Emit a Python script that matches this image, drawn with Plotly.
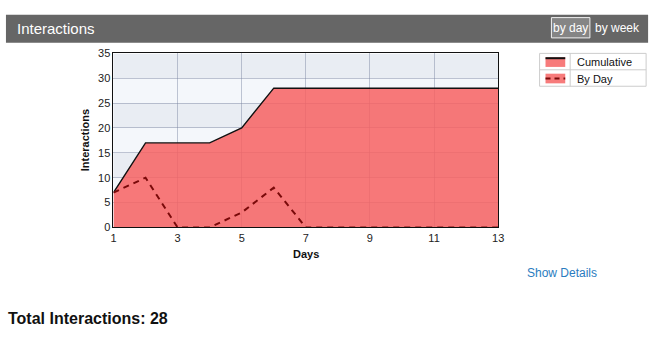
import plotly.graph_objects as go

days = list(range(1, 14))
cumulative = [7, 17, 17, 17, 20, 28, 28, 28, 28, 28, 28, 28, 28]
by_day = [7, 10, 0, 0, 3, 8, 0, 0, 0, 0, 0, 0, 0]
x_ticks = [1, 3, 5, 7, 9, 11, 13]
y_ticks = [0, 5, 10, 15, 20, 25, 30, 35]

W, H = 661, 362
FONT = "Liberation Sans, Arial, sans-serif"


def px(x):
    return x / W


def py(y):
    return 1 - y / H


FILL = "rgba(247,98,98,0.85)"

fig = go.Figure()
fig.add_trace(go.Scatter(x=days, y=cumulative, mode="lines", fill="tozeroy",
                         fillcolor=FILL, line=dict(color="#111111", width=1.4),
                         name="Cumulative", showlegend=False))
fig.add_trace(go.Scatter(x=days, y=by_day, mode="lines",
                         line=dict(color="#7a0a0a", width=2, dash="6px,5px"),
                         name="By Day", showlegend=False))

shapes = []
# background bands
for i, lo in enumerate(range(0, 35, 5)):
    dark = (i % 2 == 0)
    shapes.append(dict(type="rect", xref="x domain", yref="y", x0=0, x1=1, y0=lo, y1=lo + 5,
                       fillcolor="#e9edf3" if dark else "#f4f7fb", line=dict(width=0), layer="below"))
# header bar
shapes.append(dict(type="rect", xref="paper", yref="paper", x0=px(3), x1=px(654), y0=py(38), y1=py(9),
                   fillcolor="#666666", line=dict(width=0), layer="below"))
shapes.append(dict(type="rect", xref="paper", yref="paper", x0=px(556), x1=px(595), y0=py(33), y1=py(12),
                   fillcolor="#858585", line=dict(color="#f0f0f0", width=1), layer="below"))
# legend box
shapes.append(dict(type="rect", xref="paper", yref="paper", x0=px(544), x1=px(652), y0=py(83), y1=py(49),
                   fillcolor="white", line=dict(color="#cccccc", width=1), layer="below"))
shapes.append(dict(type="line", xref="paper", yref="paper", x0=px(544), x1=px(652), y0=py(66), y1=py(66),
                   line=dict(color="#cccccc", width=1)))
shapes.append(dict(type="line", xref="paper", yref="paper", x0=px(575), x1=px(575), y0=py(83), y1=py(49),
                   line=dict(color="#cccccc", width=1)))
shapes.append(dict(type="rect", xref="paper", yref="paper", x0=px(550), x1=px(570), y0=py(63), y1=py(53),
                   fillcolor="#f77b7b", line=dict(width=0)))
shapes.append(dict(type="line", xref="paper", yref="paper", x0=px(550), x1=px(570), y0=py(54), y1=py(54),
                   line=dict(color="#111111", width=2)))
shapes.append(dict(type="rect", xref="paper", yref="paper", x0=px(550), x1=px(570), y0=py(80), y1=py(70),
                   fillcolor="#f77b7b", line=dict(width=0)))
shapes.append(dict(type="line", xref="paper", yref="paper", x0=px(550), x1=px(570), y0=py(75), y1=py(75),
                   line=dict(color="#7a0a0a", width=2, dash="5px,4px")))

annotations = [
    dict(text="Interactions", xref="paper", yref="paper", x=px(12), y=py(23), xanchor="left", yanchor="middle",
         showarrow=False, font=dict(family=FONT, size=15, color="white")),
    dict(text="by day", xref="paper", yref="paper", x=px(575.5), y=py(22.5), xanchor="center", yanchor="middle",
         showarrow=False, font=dict(family=FONT, size=12, color="white")),
    dict(text="by week", xref="paper", yref="paper", x=px(623), y=py(22.5), xanchor="center", yanchor="middle",
         showarrow=False, font=dict(family=FONT, size=12, color="white")),
    dict(text="Cumulative", xref="paper", yref="paper", x=px(580), y=py(58), xanchor="left", yanchor="middle",
         showarrow=False, font=dict(family=FONT, size=11, color="#111111")),
    dict(text="By Day", xref="paper", yref="paper", x=px(580), y=py(75), xanchor="left", yanchor="middle",
         showarrow=False, font=dict(family=FONT, size=11, color="#111111")),
    dict(text="<b>Interactions</b>", xref="paper", yref="paper", x=px(84), y=py(139), xanchor="center",
         yanchor="middle", textangle=-90, showarrow=False, font=dict(family=FONT, size=11, color="#111111")),
    dict(text="<b>Days</b>", xref="paper", yref="paper", x=px(307), y=py(257), xanchor="center",
         yanchor="middle", showarrow=False, font=dict(family=FONT, size=11, color="#111111")),
    dict(text="Show Details", xref="paper", yref="paper", x=px(529), y=py(276), xanchor="left",
         yanchor="middle", showarrow=False, font=dict(family=FONT, size=12, color="#2a7cc0")),
    dict(text="<b>Total Interactions: 28</b>", xref="paper", yref="paper", x=px(3), y=py(323), xanchor="left",
         yanchor="middle", showarrow=False, font=dict(family=FONT, size=16, color="#111111")),
]

fig.update_layout(
    width=W, height=H, margin=dict(l=0, r=0, t=0, b=0),
    paper_bgcolor="white", plot_bgcolor="rgba(0,0,0,0)",
    font=dict(family=FONT, size=11, color="#222222"),
    showlegend=False, shapes=shapes, annotations=annotations,
    xaxis=dict(domain=[px(112), px(502)], range=[1, 13], tickvals=x_ticks, showgrid=True,
               gridcolor="rgba(120,130,160,0.45)", gridwidth=1, showline=True, linecolor="#111111",
               linewidth=1, mirror=True, zeroline=False, ticks="", ticklen=0,
               tickfont=dict(family=FONT, size=11, color="#222222")),
    yaxis=dict(domain=[py(229), py(49)], range=[0, 35], tickvals=y_ticks, showgrid=True,
               gridcolor="rgba(120,130,160,0.45)", gridwidth=1, showline=True, linecolor="#111111",
               linewidth=1, mirror=True, zeroline=False, ticks="",
               tickfont=dict(family=FONT, size=11, color="#222222")),
)

fig.write_html("out.html")
